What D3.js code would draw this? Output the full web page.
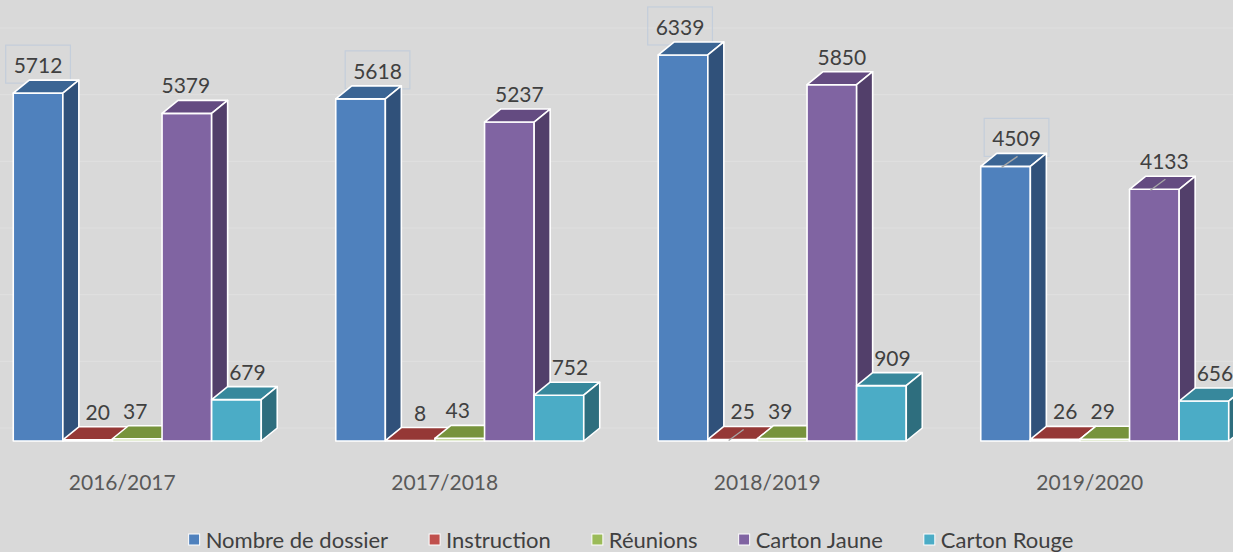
<!DOCTYPE html>
<html>
<head>
<meta charset="utf-8">
<script src="https://cdn.jsdelivr.net/npm/d3@7.9.0/dist/d3.min.js"></script>
<style>
  html, body { margin: 0; padding: 0; background: #d9d9d9; }
  svg { display: block; font-family: Lato, "Open Sans", sans-serif; }
</style>
</head>
<body>
<svg id="chart" width="1233" height="552"></svg>
<script>
// data
const seasons = ['2016/2017', '2017/2018', '2018/2019', '2019/2020'];
const seriesNames = ['Nombre de dossier', 'Instruction', 'Réunions', 'Carton Jaune', 'Carton Rouge'];
const nombreDossier = [5712, 5618, 6339, 4509];
const instruction = [20, 8, 25, 26];
const reunions = [37, 43, 39, 29];
const cartonJaune = [5379, 5237, 5850, 4133];
const cartonRouge = [679, 752, 909, 656];
const gridTicks = [0, 1000, 2000, 3000, 4000, 5000, 6000];

const seriesValues = [nombreDossier, instruction, reunions, cartonJaune, cartonRouge];

// colours: front, top, side
const palette = [
  ['#4f81bd', '#3b6594', '#30517a'],
  ['#c0504d', '#953836', '#7a2e2c'],
  ['#9bbb59', '#77933c', '#5f7530'],
  ['#8064a2', '#644b81', '#523f6a'],
  ['#4bacc6', '#37889c', '#2e6e7e']
];
const labelDx = [0, 10, -2, 10, 11];
// hand-placed labels in the original
const labelShift = { '0|3': -11, '1|0': 17, '2|0': -3, '3|0': 11 };
const boxed = ['0|0', '1|0', '2|0', '3|0'];
const leaders = ['3|0', '3|3', '2|1'];

const svg = d3.select('#chart');
const depthX = 16, depthY = -13;

const x = d3.scaleBand().domain(seasons).range([-24, 1266]).paddingInner(0.231).paddingOuter(0.1155);
const xs = d3.scaleBand().domain(seriesNames).range([0, x.bandwidth()]);
const y = d3.scaleLinear().domain([0, 7000]).range([441, 441 - 7000 * 0.0609]);
const yWall = d3.scaleLinear().domain([0, 6000]).range([428, 28]);

// faint gridlines on back wall
svg.append('g').selectAll('line').data(gridTicks).join('line')
  .attr('x1', 0).attr('x2', 1233)
  .attr('y1', d => yWall(d)).attr('y2', d => yWall(d))
  .attr('stroke', '#dfdfdf').attr('stroke-width', 1.2);

const points = [];
seasons.forEach((s, gi) => {
  seriesNames.forEach((n, si) => {
    points.push({ gi, si, season: s, name: n, value: seriesValues[si][gi] });
  });
});
points.forEach(p => {
  p.x0 = x(p.season) + xs(p.name);
  p.x1 = p.x0 + xs.bandwidth();
  p.yt = y(p.value);
  p.yb = y(0);
  p.key = p.gi + '|' + p.si;
  p.lx = (p.x0 + p.x1) / 2 + labelDx[p.si] + (labelShift[p.key] || 0);
  p.ly = p.yt + depthY - 7;
});

// label boxes sit behind the bars
const lblFont = 21;
const boxG = svg.append('g');

const barsG = svg.append('g');
points.forEach(p => {
  const g = barsG.append('g')
    .attr('stroke', '#ffffff').attr('stroke-width', 1.6).attr('stroke-linejoin', 'round');
  const c = palette[p.si];
  g.append('path')
    .attr('d', `M${p.x0},${p.yb}L${p.x1},${p.yb}L${p.x1},${p.yt}L${p.x0},${p.yt}Z`)
    .attr('fill', c[0]);
  g.append('path')
    .attr('d', `M${p.x0},${p.yt}L${p.x1},${p.yt}L${p.x1 + depthX},${p.yt + depthY}L${p.x0 + depthX},${p.yt + depthY}Z`)
    .attr('fill', c[1]);
  g.append('path')
    .attr('d', `M${p.x1},${p.yb}L${p.x1 + depthX},${p.yb + depthY}L${p.x1 + depthX},${p.yt + depthY}L${p.x1},${p.yt}Z`)
    .attr('fill', c[2]);
});

// leader lines
svg.append('g').selectAll('line').data(points.filter(p => leaders.includes(p.key))).join('line')
  .attr('x1', p => p.lx + 1).attr('y1', p => p.ly + 10)
  .attr('x2', p => (p.x0 + p.x1) / 2 - 4).attr('y2', p => p.yt + 1)
  .attr('stroke', '#a6a6a6').attr('stroke-width', 1.3);

const labels = svg.append('g').selectAll('text').data(points).join('text')
  .attr('x', p => p.lx).attr('y', p => p.ly)
  .attr('text-anchor', 'middle')
  .attr('font-size', lblFont)
  .attr('fill', '#404040')
  .text(p => p.value);

labels.filter(p => boxed.includes(p.key)).each(function (p) {
  const w = this.getComputedTextLength();
  boxG.append('rect')
    .attr('x', p.lx - w / 2 - 8).attr('y', p.ly - 28)
    .attr('width', w + 16).attr('height', 38)
    .attr('fill', 'none').attr('stroke', '#c4cedb').attr('stroke-width', 1.2);
});

// category labels
svg.append('g').selectAll('text').data(seasons).join('text')
  .attr('x', d => x(d) + x.bandwidth() / 2 - 15)
  .attr('y', 490)
  .attr('text-anchor', 'middle')
  .attr('font-size', 21)
  .attr('fill', '#595959')
  .text(d => d);

// legend
const legend = svg.append('g');
let lx = 0;
seriesNames.forEach((n, i) => {
  const it = legend.append('g');
  it.append('rect').attr('x', 0).attr('y', -6).attr('width', 11).attr('height', 11)
    .attr('fill', palette[i][0]).attr('stroke', '#ffffff').attr('stroke-width', 1);
  const t = it.append('text').attr('x', 17).attr('y', 7.5)
    .attr('font-size', 22).attr('fill', '#404040').text(n);
  const w = 17 + t.node().getComputedTextLength();
  it.attr('transform', `translate(${lx},0)`);
  lx += w + 41;
});
const totalW = lx - 41;
legend.attr('transform', `translate(${631 - totalW / 2},540)`);
</script>
</body>
</html>
